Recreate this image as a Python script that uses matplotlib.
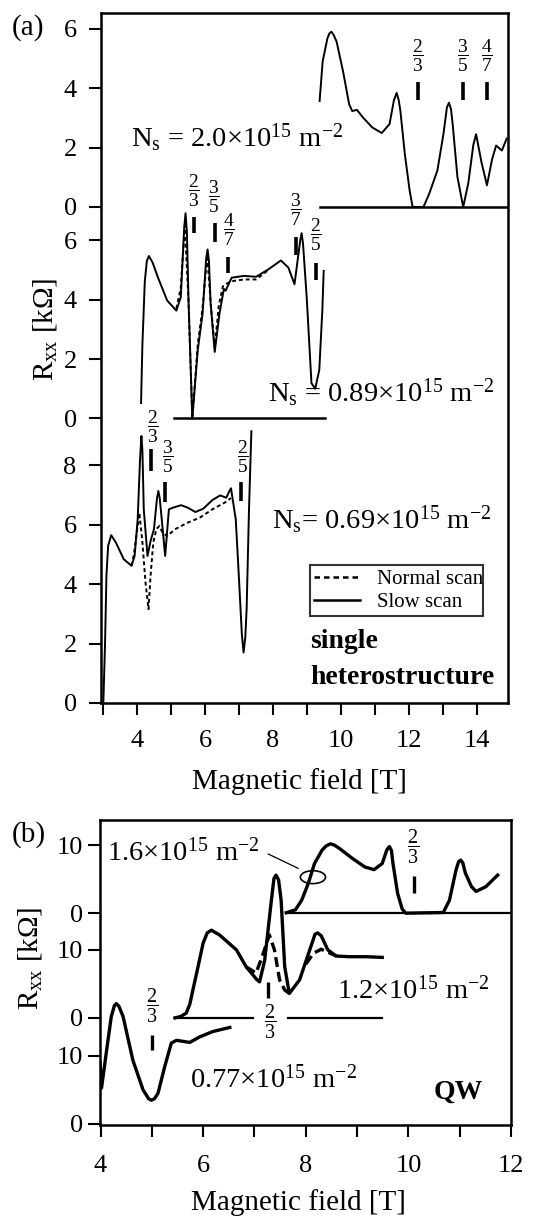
import numpy as np
import matplotlib.pyplot as plt
from matplotlib.lines import Line2D
from matplotlib.patches import Ellipse
from matplotlib.ticker import MultipleLocator

plt.rcParams['font.family'] = ['Liberation Serif', 'DejaVu Serif']
plt.rcParams['mathtext.fontset'] = 'custom'
plt.rcParams['mathtext.rm'] = 'Liberation Serif'
plt.rcParams['mathtext.it'] = 'Liberation Serif:italic'
plt.rcParams['mathtext.bf'] = 'Liberation Serif:bold'

# ---------------- (a) single heterostructure ----------------
# vertical offsets of the three traces (kOhm)
a_off_top = 16.7
a_off_mid = 9.58
a_off_bot = 0.0

# Ns = 2.0e15, slow scan
a_top_B = [9.37, 9.46, 9.60, 9.66, 9.72, 9.78, 9.87, 10.06, 10.24, 10.33, 10.47, 10.65,
           10.92, 11.20, 11.43, 11.56, 11.64, 11.70, 11.75, 11.88, 12.02, 12.11, 12.43,
           12.60, 12.84, 13.02, 13.12, 13.18, 13.24, 13.29, 13.43, 13.60, 13.75, 13.90,
           13.98, 14.14, 14.30, 14.45, 14.57, 14.74, 14.88]
a_top_R = [3.57, 4.9, 5.68, 5.85, 5.9, 5.8, 5.57, 4.57, 3.46, 3.23, 3.27, 3.01,
           2.68, 2.49, 2.79, 3.6, 3.84, 3.6, 3.23, 1.79, 0.57, 0.0, 0.0,
           0.45, 1.23, 2.47, 3.35, 3.51, 3.3, 2.79, 1.01, 0.0, 0.8, 2.1,
           2.45, 1.5, 0.73, 1.6, 2.07, 1.9, 2.3]

# Ns = 0.89e15
a_mid_B = [4.11, 4.15, 4.22, 4.28, 4.34, 4.45, 4.61, 4.88, 5.15, 5.28, 5.38, 5.42, 5.46,
           5.51, 5.62, 5.78, 5.92, 6.03, 6.07, 6.11, 6.16, 6.28, 6.42, 6.55, 6.60, 6.78,
           7.14, 7.50, 7.86, 8.23, 8.45, 8.63, 8.80, 8.84, 8.88, 8.99, 9.13, 9.24, 9.36,
           9.45, 9.49]
a_mid_R = [0.52, 2.5, 4.6, 5.3, 5.47, 5.25, 4.74, 3.97, 3.63, 4.08, 6.4, 6.91, 6.3,
           3.9, 0.0, 2.3, 3.5, 5.4, 5.69, 5.3, 3.86, 2.24, 3.53, 4.36, 4.3, 4.74,
           4.8, 4.77, 5.02, 5.32, 5.08, 4.52, 6.0, 6.24, 5.9, 4.08, 1.19, 1.0, 1.63,
           3.63, 4.97]
a_mid_norm_B = [5.15, 5.28, 5.40, 5.51, 5.62, 5.78, 5.92, 6.06, 6.16, 6.28, 6.40, 6.52,
                6.65, 6.78, 7.14, 7.50, 7.86]
a_mid_norm_R = [3.7, 4.4, 6.5, 3.9, 0.0, 2.5, 3.7, 5.5, 3.9, 2.4, 3.8, 4.45,
                4.55, 4.62, 4.68, 4.68, 5.0]

# Ns = 0.69e15
a_bot_B = [3.00, 3.05, 3.09, 3.14, 3.23, 3.37, 3.60, 3.83, 3.92, 4.01, 4.08, 4.12, 4.15,
           4.19, 4.30, 4.39, 4.49, 4.58, 4.62, 4.66, 4.72, 4.82, 4.93, 5.06, 5.29, 5.48,
           5.71, 5.94, 6.21, 6.44, 6.62, 6.72, 6.76, 6.90, 6.99, 7.08, 7.13, 7.18, 7.22,
           7.29, 7.36]
a_bot_R = [0.05, 2.04, 4.28, 5.29, 5.65, 5.4, 4.84, 4.62, 4.95, 6.18, 8.2, 8.99, 8.5,
           6.52, 4.95, 5.45, 5.85, 6.9, 7.14, 6.9, 6.18, 4.95, 6.52, 6.58, 6.66, 6.58,
           6.43, 6.54, 6.83, 6.99, 6.91, 7.15, 7.23, 6.18, 4.28, 2.3, 1.7, 2.2, 3.16,
           6.52, 9.15]
a_bot_norm_B = [3.83, 3.90, 3.98, 4.06, 4.15, 4.24, 4.33, 4.39, 4.47, 4.56, 4.65, 4.74,
                4.88, 5.11, 5.48, 5.84, 6.21, 6.58, 6.76]
a_bot_norm_R = [4.62, 5.0, 5.7, 6.4, 5.41, 4.07, 3.16, 4.28, 5.4, 5.85, 5.96, 5.74,
                5.62, 5.85, 6.07, 6.24, 6.52, 6.75, 6.9]

# filling factor marks: (offset, B, bar from, bar to, label, text B, text R)
a_marks = [
    (a_off_bot, 4.39, 7.80, 8.54, '2}{3', 4.45, 9.31),
    (a_off_bot, 4.83, 6.76, 7.43, '3}{5', 4.89, 8.27),
    (a_off_bot, 7.04, 6.79, 7.43, '2}{5', 7.10, 8.30),
    (a_off_mid, 5.66, 6.25, 6.79, '2}{3', 5.66, 7.66),
    (a_off_mid, 6.28, 5.95, 6.59, '3}{5', 6.25, 7.46),
    (a_off_mid, 6.66, 4.91, 5.45, '4}{7', 6.69, 6.35),
    (a_off_mid, 8.66, 5.52, 6.12, '3}{7', 8.66, 7.02),
    (a_off_mid, 9.27, 4.67, 5.24, '2}{5', 9.27, 6.18),
    (a_off_top, 12.27, 3.6, 4.2, '2}{3', 12.27, 5.08),
    (a_off_top, 13.60, 3.6, 4.2, '3}{5', 13.60, 5.08),
    (a_off_top, 14.30, 3.6, 4.2, '4}{7', 14.30, 5.08),
]

# ---------------- (b) quantum well ----------------
b_off_top = 31.0
b_off_mid = 15.6
b_off_bot = 0.0

b_bot_B = [3.99, 4.02, 4.12, 4.21, 4.27, 4.31, 4.36, 4.44, 4.63, 4.83, 4.94, 4.99, 5.05,
           5.12, 5.25, 5.38, 5.48, 5.74, 5.93, 6.19, 6.52]
b_bot_R = [9.0, 5.3, 10.9, 15.8, 17.4, 17.7, 17.3, 15.8, 9.4, 5.0, 3.7, 3.5, 3.7,
           4.5, 8.4, 11.9, 12.3, 12.0, 12.8, 13.6, 14.2]

b_mid_B = [5.45, 5.56, 5.67, 5.74, 5.80, 5.90, 6.00, 6.08, 6.16, 6.32, 6.65, 6.84, 7.05,
           7.10, 7.20, 7.33, 7.38, 7.42, 7.47, 7.52, 7.59, 7.68, 7.88, 8.10, 8.18, 8.23,
           8.30, 8.43, 8.59, 8.85, 9.18, 9.49]
b_mid_R = [0.0, 0.2, 0.7, 2.0, 4.1, 7.5, 11.0, 12.5, 12.9, 12.2, 10.0, 7.5, 5.6,
           5.3, 8.5, 17.3, 20.5, 21.0, 20.3, 17.3, 7.5, 3.6, 5.6, 10.5, 12.3, 12.5,
           12.1, 10.0, 9.1, 9.0, 9.0, 8.9]
b_mid_norm1_B = [6.84, 7.03, 7.15, 7.29, 7.39, 7.49, 7.59, 7.68]
b_mid_norm1_R = [7.5, 6.6, 9.0, 12.2, 10.0, 5.6, 4.1, 3.6]
b_mid_norm2_B = [8.00, 8.15, 8.30, 8.45, 8.60]
b_mid_norm2_R = [7.9, 9.5, 10.1, 9.6, 9.1]

b_top_B = [7.62, 7.80, 7.92, 8.05, 8.17, 8.32, 8.40, 8.48, 8.56, 8.66, 8.90, 9.15, 9.33,
           9.49, 9.58, 9.63, 9.67, 9.70, 9.79, 9.88, 9.95, 10.68, 10.80, 10.93, 10.98, 11.02,
           11.06, 11.11, 11.23, 11.32, 11.51, 11.74]
b_top_R = [0.07, 0.5, 1.9, 4.4, 7.3, 9.3, 9.9, 10.2, 10.0, 9.5, 8.1, 6.8, 6.4,
           7.3, 9.3, 9.8, 9.2, 7.3, 2.9, 0.6, 0.0, 0.1, 1.9, 6.4, 7.6, 7.8,
           7.4, 5.9, 3.9, 3.2, 3.9, 5.6]

b_marks = [
    (b_off_bot, 5.00, 10.9, 13.1, '2}{3', 5.00, 17.4),
    (b_off_mid, 7.26, 2.9, 5.3, '2}{3', 7.30, -0.6),
    (b_off_top, 10.10, 2.9, 5.4, '2}{3', 10.10, 9.7),
]

fig = plt.figure(figsize=(5.58, 12.19), dpi=100)
ax1 = fig.add_axes([0.181, 0.4233, 0.7294, 0.5660])
ax2 = fig.add_axes([0.1792, 0.0771, 0.7366, 0.2502])

lw_a = 1.4
# --- panel (a)
ax1.plot(a_top_B, np.array(a_top_R) + a_off_top, color='black', lw=lw_a)
ax1.plot([9.37, 15.0], [a_off_top, a_off_top], color='black', lw=1.8)
ax1.plot(a_mid_norm_B, np.array(a_mid_norm_R) + a_off_mid, color='black', lw=lw_a,
         ls=(0, (2, 1.5)))
ax1.plot(a_mid_B, np.array(a_mid_R) + a_off_mid, color='black', lw=lw_a)
ax1.plot([5.08, 9.54], [a_off_mid, a_off_mid], color='black', lw=1.8)
ax1.plot(a_bot_norm_B, np.array(a_bot_norm_R) + a_off_bot, color='black', lw=lw_a,
         ls=(0, (2, 1.5)))
ax1.plot(a_bot_B, np.array(a_bot_R) + a_off_bot, color='black', lw=lw_a)

for off, xb, y0, y1, lab, xt, yt in a_marks:
    ax1.plot([xb, xb], [y0 + off, y1 + off], color='black', lw=2.6, solid_capstyle='butt')
    ax1.text(xt, yt + off, r'$\dfrac{' + lab + '}$', fontsize=14, ha='center', va='center')

ax1.text(3.81, 19.03, r'N$_\mathregular{s}$ = 2.0×10$^{15}$ m$^{-2}$', fontsize=20.5,
         ha='left', va='center')
ax1.text(7.86, 10.45, r'N$_\mathregular{s}$ = 0.89×10$^{15}$ m$^{-2}$', fontsize=20.5,
         ha='left', va='center')
ax1.text(7.98, 6.18, r'N$_\mathregular{s}$= 0.69×10$^{15}$ m$^{-2}$', fontsize=20.5,
         ha='left', va='center')
ax1.text(9.1, 2.08, 'single', fontsize=20, fontweight='bold', ha='left', va='center')
ax1.text(9.1, 0.87, 'heterostructure', fontsize=20, fontweight='bold', ha='left', va='center')

handles = [Line2D([], [], color='black', lw=1.8, ls=(0, (2.2, 1.6))),
           Line2D([], [], color='black', lw=1.8)]
leg = ax1.legend(handles, ['Normal scan', 'Slow scan'], loc='lower left',
                 bbox_to_anchor=(0.5135, 0.126, 0.425, 0.071), mode='expand',
                 borderaxespad=0, fontsize=15, frameon=True, fancybox=False,
                 handlelength=2.2, handletextpad=0.8, labelspacing=0.15,
                 borderpad=0.2)
leg.get_frame().set_edgecolor('black')
leg.get_frame().set_linewidth(1.5)

ax1.set_xlim(2.93, 14.92)
ax1.set_ylim(0, 23.23)
ax1.xaxis.set_major_locator(MultipleLocator(2))
ax1.xaxis.set_minor_locator(MultipleLocator(1))
a_ticks = ([a_off_bot + v for v in [0, 2, 4, 6, 8]] +
           [a_off_mid + v for v in [0, 2, 4, 6]] +
           [a_off_top + v for v in [0, 2, 4, 6]])
a_labels = ['0', '2', '4', '6', '8', '0', '2', '4', '6', '0', '2', '4', '6']
ax1.set_yticks(a_ticks)
ax1.set_yticklabels(a_labels)
ax1.tick_params(axis='both', which='both', direction='out', length=8.5, width=1.5,
                labelsize=19)
ax1.tick_params(axis='y', pad=9)
ax1.tick_params(axis='x', which='both', pad=11)

# --- panel (b)
lw_b = 2.4
ax2.plot(b_bot_B, np.array(b_bot_R) + b_off_bot, color='black', lw=lw_b)
ax2.plot(b_mid_norm1_B, np.array(b_mid_norm1_R) + b_off_mid, color='black', lw=lw_b,
         ls=(0, (3, 1.5)))
ax2.plot(b_mid_norm2_B, np.array(b_mid_norm2_R) + b_off_mid, color='black', lw=lw_b,
         ls=(0, (3, 1.5)))
ax2.plot(b_mid_B, np.array(b_mid_R) + b_off_mid, color='black', lw=lw_b)
ax2.plot([5.45, 6.97], [b_off_mid, b_off_mid], color='black', lw=1.6)
ax2.plot([7.65, 9.49], [b_off_mid, b_off_mid], color='black', lw=1.6)
ax2.plot(b_top_B, np.array(b_top_R) + b_off_top, color='black', lw=lw_b)
ax2.plot([7.62, 12.0], [b_off_top, b_off_top], color='black', lw=1.6)

for off, xb, y0, y1, lab, xt, yt in b_marks:
    ax2.plot([xb, xb], [y0 + off, y1 + off], color='black', lw=2.4, solid_capstyle='butt')
    ax2.text(xt, yt + off, r'$\dfrac{' + lab + '}$', fontsize=14.5, ha='center', va='center')

ax2.text(4.12, 40.0, r'1.6×10$^{15}$ m$^{-2}$', fontsize=20.5, ha='left', va='center')
ax2.plot([7.27, 7.85], [39.7, 37.6], color='black', lw=0.9)
ax2.add_patch(Ellipse((8.14, 36.3), 0.49, 1.9, fill=False, edgecolor='black', lw=1.2))
ax2.text(8.6, 19.7, r'1.2×10$^{15}$ m$^{-2}$', fontsize=20.5, ha='left', va='center')
ax2.text(5.74, 6.5, r'0.77×10$^{15}$ m$^{-2}$', fontsize=20.5, ha='left', va='center')
ax2.text(10.5, 4.6, 'QW', fontsize=20, fontweight='bold', ha='left', va='center')

ax2.set_xlim(3.99, 12.0)
ax2.set_ylim(-0.15, 44.7)
ax2.xaxis.set_major_locator(MultipleLocator(2))
ax2.xaxis.set_minor_locator(MultipleLocator(1))
b_ticks = [b_off_bot, b_off_bot + 10, b_off_mid, b_off_mid + 10, b_off_top, b_off_top + 10]
ax2.set_yticks(b_ticks)
ax2.set_yticklabels(['0', '10', '0', '10', '0', '10'])
ax2.tick_params(axis='both', which='both', direction='out', length=8.5, width=1.5,
                labelsize=19)
ax2.tick_params(axis='y', pad=3.5)
ax2.tick_params(axis='x', which='both', pad=13)

for ax in (ax1, ax2):
    for sp in ax.spines.values():
        sp.set_linewidth(1.8)

# labels
fig.text(12 / 558, 1 - 28 / 1219, '(a)', fontsize=21, ha='left', va='center')
fig.text(12 / 558, 1 - 835 / 1219, '(b)', fontsize=21, ha='left', va='center')
fig.text(45 / 558, 1 - 329 / 1219, r'R$_\mathregular{xx}$ [kΩ]', fontsize=21,
         rotation=90, ha='center', va='center')
fig.text(30 / 558, 1 - 958 / 1219, r'R$_\mathregular{xx}$ [kΩ]', fontsize=21,
         rotation=90, ha='center', va='center')
fig.text(299 / 558, 1 - 782 / 1219, 'Magnetic field [T]', fontsize=21,
         ha='center', va='center')
fig.text(298 / 558, 1 - 1203 / 1219, 'Magnetic field [T]', fontsize=21,
         ha='center', va='center')

fig.savefig('out.png', dpi=100)
